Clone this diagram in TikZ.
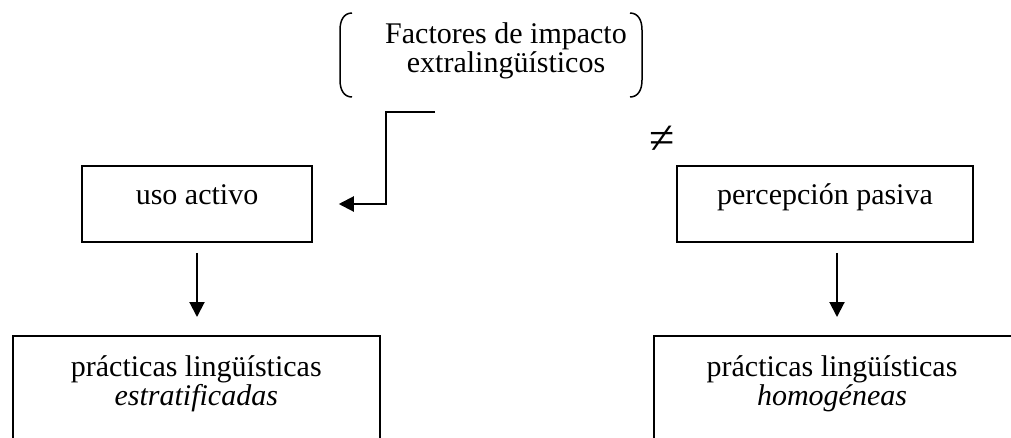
\documentclass[tikz,border=0pt]{standalone}
\usepackage{fontspec}
\setmainfont{Liberation Serif}
\usetikzlibrary{arrows.meta,positioning}

\begin{document}
\begin{tikzpicture}[x=1pt,y=-1pt,
  box/.style={draw,line width=1.5pt,inner sep=0pt,text height=10pt,text depth=10pt},
  frame/.style={draw,line width=1.5pt,inner sep=0pt,anchor=north west},
  lbl/.style={align=center,inner sep=0pt},
  flow/.style={-{Triangle[length=15pt,width=15pt]},line width=2pt},
  font=\fontsize{30}{29}\selectfont
]
  \useasboundingbox (0,0) rectangle (1011,437);
  \clip (0,0) rectangle (1011,437);

  % factores
  \node[lbl] (fac) at (506,50.5) {Factores de impacto\\extralingüísticos};
  \draw[line width=1.5pt] (352,13) .. controls (344,13) and (340,20) .. (340,30)
    -- (340,80) .. controls (340,90) and (344,97) .. (352,97);
  \draw[line width=1.5pt] (630,13) .. controls (638,13) and (642,20) .. (642,30)
    -- (642,80) .. controls (642,90) and (638,97) .. (630,97);

  % upper boxes
  \node[box,minimum width=230pt,minimum height=76pt] (ua) at (197,204) {uso activo};
  \node[box,minimum width=296pt,minimum height=76pt] (pp) at (825,204) {percepción pasiva};
  \node[font=\fontsize{46}{46}\selectfont,inner sep=0pt] (neq) at (662,140) {≠};

  % lower boxes
  \node[frame,minimum width=367pt,minimum height=150pt] (plbox) at (12,335) {};
  \node[lbl,below=20pt of plbox.north] (pl) {prácticas lingüísticas\\\textit{estratificadas}};
  \node[frame,minimum width=400pt,minimum height=150pt] (phbox) at (653,335) {};
  \node[lbl,anchor=north] (ph) at (832,355) {prácticas lingüísticas\\\textit{homogéneas}};

  % arrows
  \coordinate (elb) at (435,112);
  \draw[flow,shorten >=26pt] (elb) -- (386,112) |- (ua.east);
  \draw[flow,shorten <=10pt,shorten >=18pt] (ua.south) -- (ua.south |- plbox.north);
  \draw[flow,shorten <=10pt,shorten >=18pt] ([xshift=12pt]pp.south) -- ([xshift=12pt]pp.south |- phbox.north);
\end{tikzpicture}
\end{document}
